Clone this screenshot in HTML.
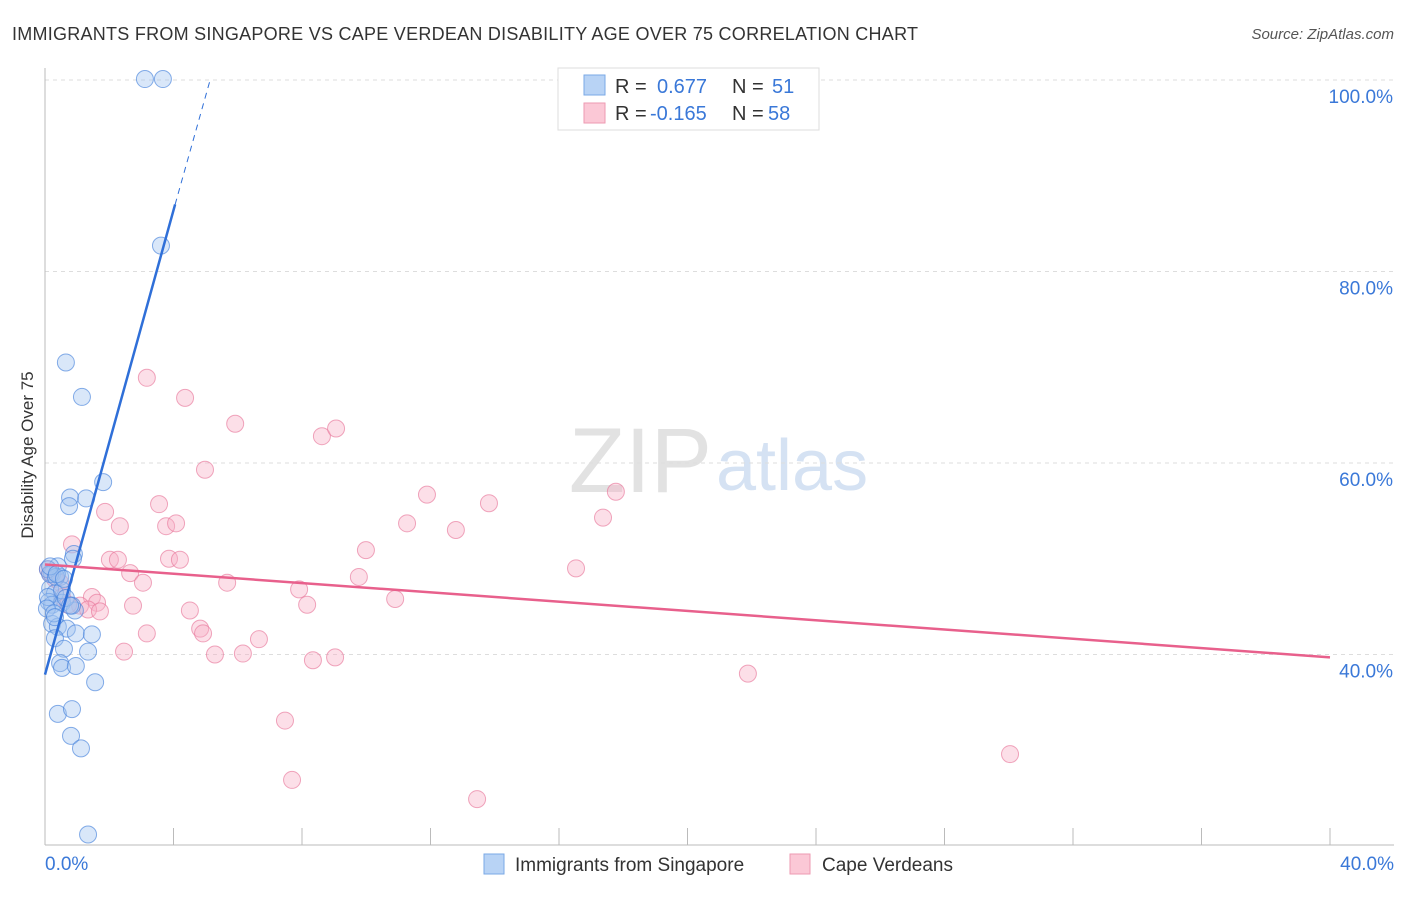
<!DOCTYPE html>
<html><head><meta charset="utf-8"><style>
body{margin:0;background:#fff;font-family:"Liberation Sans",sans-serif}
svg text{font-family:"Liberation Sans",sans-serif}
</style></head><body>
<svg id="c" width="1406" height="892">
<text x="12" y="40" font-size="18" fill="#333" textLength="906" lengthAdjust="spacing">IMMIGRANTS FROM SINGAPORE VS CAPE VERDEAN DISABILITY AGE OVER 75 CORRELATION CHART</text>
<text x="1394" y="39" font-size="15" fill="#555" font-style="italic" text-anchor="end">Source: ZipAtlas.com</text>
<text x="33" y="455" font-size="17" fill="#333" text-anchor="middle" transform="rotate(-90 33 455)">Disability Age Over 75</text>
<text x="712" y="492" font-size="92" fill="#e2e2e2" text-anchor="end" font-family="Liberation Serif">ZIP</text>
<text x="716" y="490" font-size="72" fill="#d5e2f3">atlas</text>
<g id="grid"></g><g id="pts"></g><g id="lines"></g>
<g>
<rect x="558" y="68" width="261" height="62" fill="#fff" stroke="#ddd"/>
<rect x="584" y="75" width="21" height="20" fill="#b8d3f5" stroke="#7aa8e6"/>
<rect x="584" y="103" width="21" height="20" fill="#fbc8d6" stroke="#ee9ab2"/>
<text x="615" y="93" font-size="20" fill="#333">R =</text><text x="657" y="93" font-size="20" fill="#3a78d8">0.677</text>
<text x="732" y="93" font-size="20" fill="#333">N =</text><text x="772" y="93" font-size="20" fill="#3a78d8">51</text>
<text x="615" y="120" font-size="20" fill="#333">R =</text><text x="650" y="120" font-size="20" fill="#3a78d8">-0.165</text>
<text x="732" y="120" font-size="20" fill="#333">N =</text><text x="768" y="120" font-size="20" fill="#3a78d8">58</text>
</g>
<g>
<rect x="484" y="854" width="20" height="20" fill="#b8d3f5" stroke="#7aa8e6"/>
<text x="515" y="871" font-size="19" fill="#333">Immigrants from Singapore</text>
<rect x="790" y="854" width="20" height="20" fill="#fbc8d6" stroke="#ee9ab2"/>
<text x="822" y="871" font-size="19" fill="#333">Cape Verdeans</text>
</g>
</svg>
<script>
const yTicks=[100,80,60,40];
const xTickLabels=["0.0%","40.0%"];
const blueX=[3.11,3.67,3.61,0.65,1.15,1.81,0.78,1.28,0.75,0.9,0.87,0.40,0.22,0.47,0.16,0.31,0.12,0.22,0.53,0.93,0.22,0.40,0.68,0.96,1.46,0.31,0.59,1.34,0.47,0.53,0.96,1.56,0.40,0.84,0.81,1.12,1.34,0.09,0.16,0.34,0.09,0.06,0.28,0.53,0.65,0.84,0.31,0.16,0.37,0.59,0.78];
const blueY=[100.1,100.1,82.7,70.5,66.9,58.0,56.4,56.3,55.5,50.5,50.0,49.2,48.4,48.1,46.9,46.4,45.5,45.2,45.4,44.6,43.2,42.9,42.7,42.2,42.1,41.7,40.6,40.3,39.1,38.6,38.8,37.1,33.8,34.3,31.5,30.2,21.2,48.9,48.4,48.1,46.0,44.8,44.3,46.7,45.9,45.1,43.9,49.2,48.4,47.9,45.1];
const pinkX=[3.17,4.36,5.92,8.62,9.06,4.98,3.55,1.87,2.33,3.77,4.08,13.82,11.89,17.77,17.37,11.27,12.79,9.99,0.84,2.02,2.27,3.86,4.20,2.65,3.05,9.77,5.67,7.91,8.16,10.9,16.53,1.46,1.62,1.09,1.34,1.71,2.74,4.51,4.83,4.92,3.17,6.66,2.46,5.29,6.16,8.34,9.03,21.88,7.47,7.69,13.45,30.04,0.16,0.31,0.47,0.09,0.53,0.72];
const pinkY=[68.9,66.8,64.1,62.8,63.6,59.3,55.7,54.9,53.4,53.4,53.7,55.8,56.7,57.0,54.3,53.7,53.0,50.9,51.5,49.9,49.9,50.0,49.9,48.5,47.5,48.1,47.5,46.8,45.2,45.8,49.0,46.0,45.4,45.1,44.7,44.5,45.1,44.6,42.7,42.2,42.2,41.6,40.3,40.0,40.1,39.4,39.7,38.0,33.1,26.9,24.9,29.6,48.5,47.9,47.5,48.9,46.0,45.2];
const blueLine=[[0,37.9],[4.05,87.0]], blueDash=[[4.05,87.0],[5.14,100]];
const pinkLine=[[0,49.4],[40,39.7]];
const X=v=>45+v*32.125, Y=v=>80+(100-v)*9.575;
const NS="http://www.w3.org/2000/svg";
function mk(t,a,p){const e=document.createElementNS(NS,t);for(const k in a)e.setAttribute(k,a[k]);document.getElementById(p).appendChild(e);return e;}
yTicks.forEach(t=>{
 const l=mk('line',{x1:45,x2:1394,y1:Y(t),y2:Y(t),stroke:'#ddd','stroke-dasharray':'4,4'},'grid');
 
 
 const tx=mk('text',{x:1393,y:Y(t)+23,'font-size':19,fill:'#3a78d8','text-anchor':'end'},'grid');
 tx.textContent=t.toFixed(1)+'%';
 
 
});
const ax=mk('line',{x1:45,x2:45,y1:68,y2:845,stroke:'#bbb'},'grid');


const bx=mk('line',{x1:45,x2:1394,y1:845,y2:845,stroke:'#bbb'},'grid');


for(let i=1;i<=10;i++){const t=mk('line',{x1:X(i*4),x2:X(i*4),y1:828,y2:845,stroke:'#bbb'},'grid');
 
 }
[[0,45,'start'],[40,1394,'end']].forEach((d,i)=>{const t=mk('text',{x:d[1],y:870,'font-size':19,fill:'#3a78d8','text-anchor':d[2]},'grid');t.textContent=xTickLabels[i];
 
 });
pinkX.forEach((v,i)=>{const c=mk('circle',{cx:X(v),cy:Y(pinkY[i]),r:8.5,fill:'rgba(248,176,198,0.4)',stroke:'rgba(232,120,155,0.65)'},'pts');
 
 });
blueX.forEach((v,i)=>{const c=mk('circle',{cx:X(v),cy:Y(blueY[i]),r:8.5,fill:'rgba(160,196,240,0.4)',stroke:'rgba(70,130,220,0.65)'},'pts');
 
 });
const l1=mk('line',{x1:X(blueLine[0][0]),y1:Y(blueLine[0][1]),x2:X(blueLine[1][0]),y2:Y(blueLine[1][1]),stroke:'#2f6fd8','stroke-width':2.5},'lines');


const l2=mk('line',{x1:X(blueDash[0][0]),y1:Y(blueDash[0][1]),x2:X(blueDash[1][0]),y2:Y(blueDash[1][1]),stroke:'#2f6fd8','stroke-width':1,'stroke-dasharray':'6,5'},'lines');


const l3=mk('line',{x1:X(pinkLine[0][0]),y1:Y(pinkLine[0][1]),x2:X(pinkLine[1][0]),y2:Y(pinkLine[1][1]),stroke:'#e8608c','stroke-width':2.5},'lines');


</script>
</body></html>
